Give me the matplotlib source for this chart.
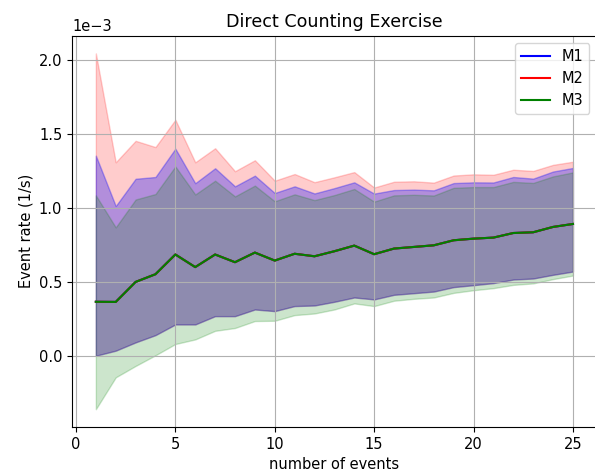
import numpy as np
import matplotlib
matplotlib.use('Agg')
import matplotlib.pyplot as plt

# values, in units of 1e-3 1/s
n_events = np.arange(1, 26)
rate = [0.366, 0.365, 0.50, 0.552, 0.685, 0.60, 0.685, 0.633, 0.698, 0.644, 0.69, 0.673, 0.707,
        0.745, 0.687, 0.725, 0.736, 0.747, 0.781, 0.792, 0.799, 0.83, 0.835, 0.871, 0.891]
m1_hi = [1.352, 1.012, 1.196, 1.208, 1.399, 1.166, 1.267, 1.145, 1.217, 1.1, 1.145, 1.097, 1.133,
         1.172, 1.096, 1.12, 1.123, 1.118, 1.167, 1.172, 1.171, 1.208, 1.197, 1.245, 1.269]
m2_hi = [2.042, 1.307, 1.452, 1.41, 1.594, 1.307, 1.402, 1.247, 1.321, 1.183, 1.228, 1.173, 1.206,
         1.241, 1.137, 1.176, 1.179, 1.17, 1.218, 1.226, 1.223, 1.257, 1.249, 1.29, 1.311]
m3_hi = [1.084, 0.868, 1.056, 1.093, 1.279, 1.09, 1.183, 1.077, 1.15, 1.044, 1.091, 1.052, 1.086,
         1.127, 1.042, 1.084, 1.088, 1.083, 1.135, 1.14, 1.14, 1.175, 1.168, 1.212, 1.239]
m12_lo = [0.002, 0.036, 0.092, 0.141, 0.213, 0.213, 0.269, 0.269, 0.314, 0.303, 0.337, 0.341, 0.366,
          0.395, 0.382, 0.413, 0.424, 0.435, 0.465, 0.478, 0.492, 0.516, 0.523, 0.548, 0.57]
m3_lo = [-0.359, -0.144, -0.067, 0.005, 0.081, 0.112, 0.17, 0.189, 0.236, 0.238, 0.276, 0.287, 0.314,
         0.355, 0.337, 0.373, 0.386, 0.395, 0.426, 0.444, 0.458, 0.48, 0.49, 0.519, 0.543]

scale = 1e-3
rate = np.array(rate) * scale

plt.rcParams['font.size'] = 10.5

fig = plt.figure(figsize=(5.95, 4.71), dpi=100)
ax = fig.add_axes([0.121, 0.0934, 0.882, 0.831])

ax.fill_between(n_events, np.array(m12_lo) * scale, np.array(m2_hi) * scale, color='red', alpha=0.2)
ax.fill_between(n_events, np.array(m12_lo) * scale, np.array(m1_hi) * scale, color='blue', alpha=0.3)
ax.fill_between(n_events, np.array(m3_lo) * scale, np.array(m3_hi) * scale, color='green', alpha=0.2)

ax.plot(n_events, rate, color='blue', label='M1')
ax.plot(n_events, rate, color='red', label='M2')
ax.plot(n_events, rate, color='green', label='M3')

ax.ticklabel_format(axis='y', style='sci', scilimits=(0, 0))
ax.set_title('Direct Counting Exercise')
ax.set_xlabel('number of events')
ax.set_ylabel('Event rate (1/s)')
ax.grid(True)
ax.legend(loc='upper right')

fig.savefig('out.png', dpi=100)
